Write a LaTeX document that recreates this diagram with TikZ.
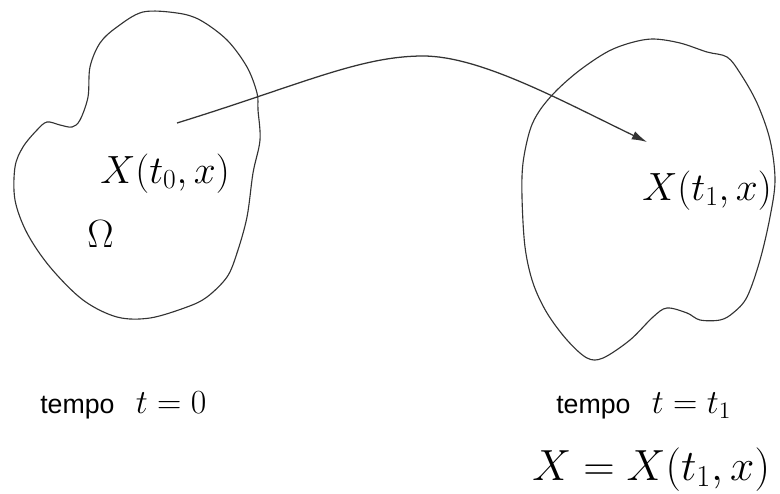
\RequirePackage{fix-cm}
\documentclass[tikz,border=0pt]{standalone}
\usepackage{amsmath}
\usepackage{fontspec}
\usepackage{tikz}
\usetikzlibrary{arrows.meta,positioning,calc}
\newfontfamily\tempofont{Liberation Sans}

\begin{document}
\begin{tikzpicture}[
    x=0.025cm, y=-0.025cm,
    region/.style={draw=black!80, line width=0.8pt},
    arrow/.style={-{Latex[length=3.8mm,width=2.2mm]}, line width=0.9pt, draw=black!80},
    bigmath/.style={anchor=base west, inner sep=0pt, font=\fontsize{28}{32}\selectfont},
    timelbl/.style={anchor=base west, inner sep=0pt, font=\fontsize{19}{21}\selectfont}
]
\useasboundingbox (0,0) rectangle (780,493);

% region at t = 0
\draw[region] plot[smooth cycle, tension=0.55] coordinates {
    (143,12) (177,13) (200,20) (227,40) (247,67) (257,93) (258,110) (260,140)
    (253,173) (247,217) (237,253) (227,277) (207,297) (187,307) (150,318)
    (117,317) (83,300) (50,267) (27,233) (15,200) (15,167) (23,147) (37,130)
    (47,122) (60,125) (72,127) (80,120) (88,97) (90,67) (100,43) (117,27)};

% region at t = t_1
\draw[region] plot[smooth cycle, tension=0.55] coordinates {
    (653,39) (680,43) (707,52) (727,57) (740,73) (757,103) (770,140) (775,180)
    (770,217) (760,260) (747,297) (733,313) (720,320) (700,320) (687,313)
    (667,308) (653,317) (630,340) (603,358) (587,358) (567,340) (547,313)
    (533,283) (525,247) (522,197) (523,163) (530,130) (540,110) (557,90)
    (580,70) (607,52) (630,43)};

% labels
\node[bigmath] (x0) at (100,183) {$X(t_0,x)$};
\node[bigmath] (omega) at (87,247) {$\Omega$};
\node[bigmath] (x1) at (642,200) {$X(t_1,x)$};

\node[timelbl] (t0) at (40,413) {\tempofont tempo\hspace{0.8em}{\fontsize{24}{26}\selectfont$t = 0$}};
\node[timelbl] (t1) at (556,413) {\tempofont tempo\hspace{0.8em}{\fontsize{24}{26}\selectfont$t = t_1$}};
\node[bigmath, font=\fontsize{31}{34}\selectfont] (xeq) at (532,480) {$X = X(t_1,x)$};

% flow map
\coordinate (start) at (177,123);
\coordinate (apex) at (423,56);
\coordinate (stop) at (647,142);
\draw[arrow] (start) .. controls (300,85) and (360,56) .. (apex)
    .. controls (480,56) and (560,100) .. (stop);
\end{tikzpicture}
\end{document}
